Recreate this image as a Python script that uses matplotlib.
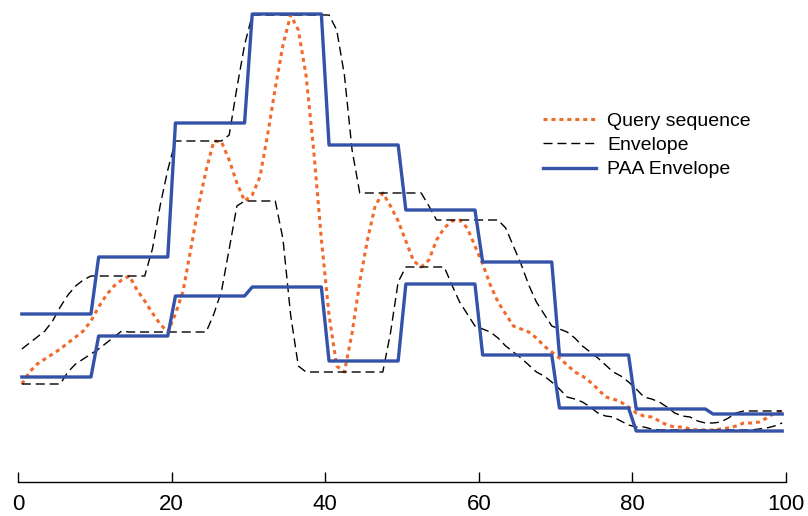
import numpy as np
import matplotlib.pyplot as plt

plt.rcParams['font.family'] = ['Liberation Sans', 'DejaVu Sans']

# sample positions (one value per point, 100 points)
x = np.arange(100) + 0.5

query = [0.98, 1.10, 1.18, 1.23, 1.28, 1.33, 1.39, 1.45, 1.51, 1.61,
         1.75, 1.87, 1.96, 2.02, 2.06, 1.92, 1.81, 1.69, 1.58, 1.50,
         1.68, 1.91, 2.33, 2.76, 3.12, 3.41, 3.40, 3.22, 2.99, 2.81,
         2.87, 3.05, 3.47, 3.94, 4.37, 4.67, 4.52, 4.07, 3.32, 2.43,
         1.67, 1.16, 1.10, 1.49, 2.00, 2.42, 2.76, 2.89, 2.76, 2.61,
         2.41, 2.21, 2.15, 2.22, 2.42, 2.54, 2.61, 2.62, 2.54, 2.36,
         2.18, 1.97, 1.80, 1.68, 1.56, 1.53, 1.50, 1.44, 1.36, 1.30,
         1.24, 1.17, 1.10, 1.06, 1.00, 0.93, 0.85, 0.83, 0.80, 0.75,
         0.69, 0.66, 0.65, 0.61, 0.57, 0.55, 0.55, 0.53, 0.52, 0.52,
         0.52, 0.53, 0.54, 0.56, 0.59, 0.59, 0.60, 0.64, 0.69, 0.71]

env_upper = [1.33, 1.39, 1.45, 1.51, 1.61, 1.75, 1.87, 1.96, 2.02, 2.06,
             2.06, 2.06, 2.06, 2.06, 2.06, 2.06, 2.06, 2.33, 2.76, 3.12,
             3.41, 3.41, 3.41, 3.41, 3.41, 3.41, 3.41, 3.47, 3.94, 4.37,
             4.67, 4.67, 4.67, 4.67, 4.67, 4.67, 4.67, 4.67, 4.67, 4.67,
             4.67, 4.52, 4.07, 3.32, 2.89, 2.89, 2.89, 2.89, 2.89, 2.89,
             2.89, 2.89, 2.89, 2.76, 2.62, 2.62, 2.62, 2.62, 2.62, 2.62,
             2.62, 2.62, 2.62, 2.54, 2.36, 2.18, 1.97, 1.80, 1.68, 1.56,
             1.53, 1.50, 1.44, 1.36, 1.30, 1.24, 1.17, 1.10, 1.06, 1.00,
             0.93, 0.85, 0.83, 0.80, 0.75, 0.69, 0.66, 0.65, 0.61, 0.59,
             0.59, 0.60, 0.64, 0.69, 0.71, 0.71, 0.71, 0.71, 0.71, 0.71]

env_lower = [0.98, 0.98, 0.98, 0.98, 0.98, 0.98, 1.10, 1.18, 1.23, 1.28,
             1.33, 1.39, 1.45, 1.51, 1.50, 1.50, 1.50, 1.50, 1.50, 1.50,
             1.50, 1.50, 1.50, 1.50, 1.50, 1.68, 1.91, 2.33, 2.76, 2.81,
             2.81, 2.81, 2.81, 2.81, 2.43, 1.67, 1.16, 1.10, 1.10, 1.10,
             1.10, 1.10, 1.10, 1.10, 1.10, 1.10, 1.10, 1.10, 1.49, 2.00,
             2.15, 2.15, 2.15, 2.15, 2.15, 2.15, 1.97, 1.80, 1.68, 1.56,
             1.53, 1.50, 1.44, 1.36, 1.30, 1.24, 1.17, 1.10, 1.06, 1.00,
             0.93, 0.85, 0.83, 0.80, 0.75, 0.69, 0.66, 0.65, 0.61, 0.57,
             0.55, 0.55, 0.53, 0.52, 0.52, 0.52, 0.52, 0.52, 0.52, 0.52,
             0.52, 0.52, 0.52, 0.52, 0.52, 0.52, 0.53, 0.54, 0.56, 0.59]

# PAA envelope, one value per frame of 10 points
paa_upper = [1.68, 2.25, 3.59, 4.68, 3.37, 2.72, 2.20, 1.27, 0.73, 0.68]
paa_lower = [1.05, 1.46, 1.86, 1.95, 1.21, 1.98, 1.27, 0.74, 0.51, 0.51]
frame = 10

xticks = [0, 20, 40, 60, 80, 100]

fig = plt.figure(figsize=(8.08, 5.16), dpi=100)
ax = fig.add_axes([18 / 808, 34 / 516, 768 / 808, 482 / 516])

orange = '#f26a2b'
blue = '#3352a8'

ax.plot(x, query, color=orange, lw=2.2, ls=(0, (1.3, 1.3)), label='Query sequence')
ax.plot(x, env_upper, color='black', lw=1.0, ls=(0, (6.5, 3.5)), label='Envelope')
ax.plot(x, env_lower, color='black', lw=1.0, ls=(0, (6.5, 3.5)))
ax.plot(x, np.repeat(paa_upper, frame), color=blue, lw=2.4, label='PAA Envelope')
ax.plot(x, np.repeat(paa_lower, frame), color=blue, lw=2.4)

ax.set_xlim(0, 100)
ax.set_ylim(0, 4.82)
ax.set_xticks(xticks)
ax.set_yticks([])
for s in ['top', 'left', 'right']:
    ax.spines[s].set_visible(False)
ax.spines['bottom'].set_linewidth(1.0)
ax.tick_params(axis='x', direction='in', length=7, width=1.0, pad=9, labelsize=16)
ax.patch.set_alpha(0)

ax.legend(loc='upper left', bbox_to_anchor=(543 / 808, 1 - 112 / 516),
          bbox_transform=fig.transFigure, frameon=False, fontsize=14,
          handlelength=2.7, handletextpad=0.6, labelspacing=0.35,
          borderpad=0, borderaxespad=0)

fig.savefig('out.png', dpi=100)
